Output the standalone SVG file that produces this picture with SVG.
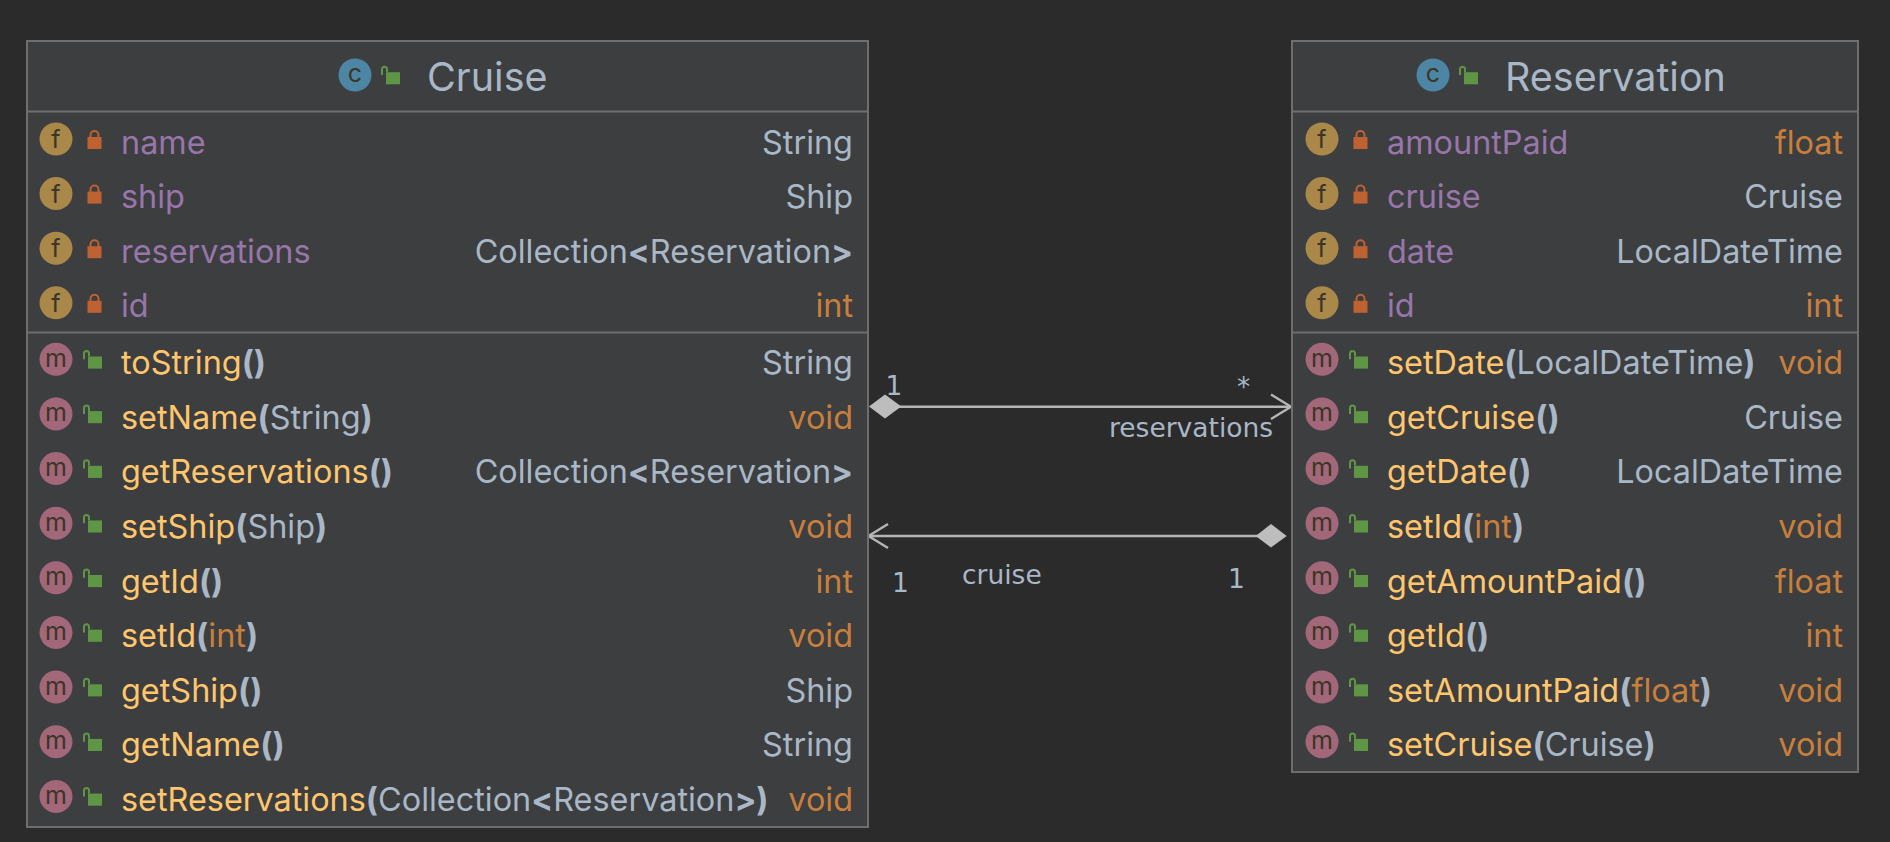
<svg xmlns="http://www.w3.org/2000/svg" xmlns:xlink="http://www.w3.org/1999/xlink" width="1890" height="842" viewBox="0 0 1890 842">
<style>
text{font-family:"Inter","Liberation Sans",sans-serif;font-size:32.4px;fill:#a9b7c6}
.box{fill:#3c3e40;stroke:#6e6e6e;stroke-width:2}
.sep{stroke:#6e6e6e;stroke-width:2}
.title{font-size:39.5px}
.r{text-anchor:end}
.p{fill:#9876aa}.o{fill:#c97f3c}.y{fill:#ffc66d}.b{font-weight:700}
.g{fill:#a9b7c6}
.ic{font-size:25px;text-anchor:middle;fill:#3b3626}
.lbl{font-family:"DejaVu Sans",sans-serif;font-size:26.5px}
.conn{stroke:#b5b5b5;stroke-width:2.4;fill:none}
.dia{fill:#bdbdbd}
.cf{fill:#a9884a}.cm{fill:#a3677a}.cc{fill:#4d85a5}
</style>
<defs>
<g id="lock"><path d="M3 8V5a4 4 0 0 1 8 0V8" fill="none" stroke="#bf6231" stroke-width="2"/><rect x="0" y="7" width="14" height="12" fill="#bf6231"/></g>
<g id="open"><path d="M1 10V4.2a2.5 2.5 0 0 1 5 0V7" fill="none" stroke="#5e9645" stroke-width="2"/><rect x="5" y="7.2" width="14" height="12.1" fill="#5e9645"/></g>
<circle id="f" r="16.5" class="cf"/><circle id="m" r="16.5" class="cm"/><circle id="c" r="16.5" class="cc"/>
</defs>
<rect width="1890" height="842" fill="#2b2b2b"/>
<g id="connectors">
<line class="conn" x1="895" y1="406.7" x2="1290" y2="406.7"/>
<path class="conn" d="M1271 394.5L1291 406.7L1271 419"/>
<path class="dia" d="M869 406.5L885 394.5L901.3 406.5L885 418.5Z"/>
<line class="conn" x1="870" y1="536" x2="1260" y2="536"/>
<path class="conn" d="M888 524L868.5 536L888 548"/>
<path class="dia" d="M1255.7 536L1271 524L1286.7 536L1271 547.5Z"/>
<text class="lbl" x="885.5" y="395">1</text>
<text class="lbl" x="1237" y="396">*</text>
<text class="lbl" x="1109" y="437">reservations</text>
<text class="lbl" x="892" y="591.5">1</text>
<text class="lbl" x="962" y="584">cruise</text>
<text class="lbl" x="1228" y="588">1</text>
</g>
<g id="node-cruise">
<rect class="box" x="27" y="41" width="841" height="786"/>
<line class="sep" x1="27" y1="111.5" x2="868" y2="111.5"/>
<line class="sep" x1="27" y1="332.5" x2="868" y2="332.5"/>
<use xlink:href="#c" x="355" y="75"/><text class="ic" x="355" y="82">c</text>
<use xlink:href="#open" x="381" y="65"/>
<text class="title" x="427" y="91">Cruise</text>
<use xlink:href="#f" x="56" y="139"/><text class="ic" x="56" y="148">f</text><use xlink:href="#lock" x="87.5" y="130"/><text class="p" x="121" y="153.6">name</text><text class="r" x="853" y="153.6">String</text>
<use xlink:href="#f" x="56" y="193.6"/><text class="ic" x="56" y="202.6">f</text><use xlink:href="#lock" x="87.5" y="184.6"/><text class="p" x="121" y="208.2">ship</text><text class="r" x="853" y="208.2">Ship</text>
<use xlink:href="#f" x="56" y="248.2"/><text class="ic" x="56" y="257.2">f</text><use xlink:href="#lock" x="87.5" y="239.2"/><text class="p" x="121" y="262.8">reservations</text><text class="r" x="853" y="262.8">Collection<tspan class="b">&lt;</tspan>Reservation<tspan class="b">&gt;</tspan></text>
<use xlink:href="#f" x="56" y="302.8"/><text class="ic" x="56" y="311.8">f</text><use xlink:href="#lock" x="87.5" y="293.8"/><text class="p" x="121" y="317.4">id</text><text class="r o" x="853" y="317.4">int</text>
<use xlink:href="#m" x="56" y="359.3"/><text class="ic" x="56" y="366.7">m</text><use xlink:href="#open" x="83" y="349.3"/><text class="y" x="121" y="374">toString<tspan class="b g">()</tspan></text><text class="r" x="853" y="374">String</text>
<use xlink:href="#m" x="56" y="413.9"/><text class="ic" x="56" y="421.3">m</text><use xlink:href="#open" x="83" y="403.9"/><text class="y" x="121" y="428.6">setName<tspan class="b g">(</tspan><tspan class="g">String</tspan><tspan class="b g">)</tspan></text><text class="r o" x="853" y="428.6">void</text>
<use xlink:href="#m" x="56" y="468.6"/><text class="ic" x="56" y="476">m</text><use xlink:href="#open" x="83" y="458.6"/><text class="y" x="121" y="483.3">getReservations<tspan class="b g">()</tspan></text><text class="r" x="853" y="483.3">Collection<tspan class="b">&lt;</tspan>Reservation<tspan class="b">&gt;</tspan></text>
<use xlink:href="#m" x="56" y="523.2"/><text class="ic" x="56" y="530.6">m</text><use xlink:href="#open" x="83" y="513.2"/><text class="y" x="121" y="537.9">setShip<tspan class="b g">(</tspan><tspan class="g">Ship</tspan><tspan class="b g">)</tspan></text><text class="r o" x="853" y="537.9">void</text>
<use xlink:href="#m" x="56" y="577.8"/><text class="ic" x="56" y="585.2">m</text><use xlink:href="#open" x="83" y="567.8"/><text class="y" x="121" y="592.5">getId<tspan class="b g">()</tspan></text><text class="r o" x="853" y="592.5">int</text>
<use xlink:href="#m" x="56" y="632.5"/><text class="ic" x="56" y="639.9">m</text><use xlink:href="#open" x="83" y="622.5"/><text class="y" x="121" y="647.2">setId<tspan class="b g">(</tspan><tspan class="o">int</tspan><tspan class="b g">)</tspan></text><text class="r o" x="853" y="647.2">void</text>
<use xlink:href="#m" x="56" y="687.1"/><text class="ic" x="56" y="694.5">m</text><use xlink:href="#open" x="83" y="677.1"/><text class="y" x="121" y="701.8">getShip<tspan class="b g">()</tspan></text><text class="r" x="853" y="701.8">Ship</text>
<use xlink:href="#m" x="56" y="741.7"/><text class="ic" x="56" y="749.1">m</text><use xlink:href="#open" x="83" y="731.7"/><text class="y" x="121" y="756.4">getName<tspan class="b g">()</tspan></text><text class="r" x="853" y="756.4">String</text>
<use xlink:href="#m" x="56" y="796.4"/><text class="ic" x="56" y="803.8">m</text><use xlink:href="#open" x="83" y="786.4"/><text class="y" x="121" y="811">setReservations<tspan class="b g">(</tspan><tspan class="g">Collection</tspan><tspan class="b g">&lt;</tspan><tspan class="g">Reservation</tspan><tspan class="b g">&gt;)</tspan></text><text class="r o" x="853" y="811">void</text>
</g>
<g id="node-reservation">
<rect class="box" x="1292" y="41" width="566" height="731"/>
<line class="sep" x1="1292" y1="111.5" x2="1858" y2="111.5"/>
<line class="sep" x1="1292" y1="332.5" x2="1858" y2="332.5"/>
<use xlink:href="#c" x="1433" y="75"/><text class="ic" x="1433" y="82">c</text>
<use xlink:href="#open" x="1459" y="65"/>
<text class="title" x="1505" y="91">Reservation</text>
<use xlink:href="#f" x="1322" y="139"/><text class="ic" x="1322" y="148">f</text><use xlink:href="#lock" x="1353.5" y="130"/><text class="p" x="1387" y="153.6">amountPaid</text><text class="r o" x="1843" y="153.6">float</text>
<use xlink:href="#f" x="1322" y="193.6"/><text class="ic" x="1322" y="202.6">f</text><use xlink:href="#lock" x="1353.5" y="184.6"/><text class="p" x="1387" y="208.2">cruise</text><text class="r" x="1843" y="208.2">Cruise</text>
<use xlink:href="#f" x="1322" y="248.2"/><text class="ic" x="1322" y="257.2">f</text><use xlink:href="#lock" x="1353.5" y="239.2"/><text class="p" x="1387" y="262.8">date</text><text class="r" x="1843" y="262.8">LocalDateTime</text>
<use xlink:href="#f" x="1322" y="302.8"/><text class="ic" x="1322" y="311.8">f</text><use xlink:href="#lock" x="1353.5" y="293.8"/><text class="p" x="1387" y="317.4">id</text><text class="r o" x="1843" y="317.4">int</text>
<use xlink:href="#m" x="1322" y="359.3"/><text class="ic" x="1322" y="366.7">m</text><use xlink:href="#open" x="1349" y="349.3"/><text class="y" x="1387" y="374">setDate<tspan class="b g">(</tspan><tspan class="g">LocalDateTime</tspan><tspan class="b g">)</tspan></text><text class="r o" x="1843" y="374">void</text>
<use xlink:href="#m" x="1322" y="413.9"/><text class="ic" x="1322" y="421.3">m</text><use xlink:href="#open" x="1349" y="403.9"/><text class="y" x="1387" y="428.6">getCruise<tspan class="b g">()</tspan></text><text class="r" x="1843" y="428.6">Cruise</text>
<use xlink:href="#m" x="1322" y="468.6"/><text class="ic" x="1322" y="476">m</text><use xlink:href="#open" x="1349" y="458.6"/><text class="y" x="1387" y="483.3">getDate<tspan class="b g">()</tspan></text><text class="r" x="1843" y="483.3">LocalDateTime</text>
<use xlink:href="#m" x="1322" y="523.2"/><text class="ic" x="1322" y="530.6">m</text><use xlink:href="#open" x="1349" y="513.2"/><text class="y" x="1387" y="537.9">setId<tspan class="b g">(</tspan><tspan class="o">int</tspan><tspan class="b g">)</tspan></text><text class="r o" x="1843" y="537.9">void</text>
<use xlink:href="#m" x="1322" y="577.8"/><text class="ic" x="1322" y="585.2">m</text><use xlink:href="#open" x="1349" y="567.8"/><text class="y" x="1387" y="592.5">getAmountPaid<tspan class="b g">()</tspan></text><text class="r o" x="1843" y="592.5">float</text>
<use xlink:href="#m" x="1322" y="632.5"/><text class="ic" x="1322" y="639.9">m</text><use xlink:href="#open" x="1349" y="622.5"/><text class="y" x="1387" y="647.2">getId<tspan class="b g">()</tspan></text><text class="r o" x="1843" y="647.2">int</text>
<use xlink:href="#m" x="1322" y="687.1"/><text class="ic" x="1322" y="694.5">m</text><use xlink:href="#open" x="1349" y="677.1"/><text class="y" x="1387" y="701.8">setAmountPaid<tspan class="b g">(</tspan><tspan class="o">float</tspan><tspan class="b g">)</tspan></text><text class="r o" x="1843" y="701.8">void</text>
<use xlink:href="#m" x="1322" y="741.7"/><text class="ic" x="1322" y="749.1">m</text><use xlink:href="#open" x="1349" y="731.7"/><text class="y" x="1387" y="756.4">setCruise<tspan class="b g">(</tspan><tspan class="g">Cruise</tspan><tspan class="b g">)</tspan></text><text class="r o" x="1843" y="756.4">void</text>
</g>
</svg>
